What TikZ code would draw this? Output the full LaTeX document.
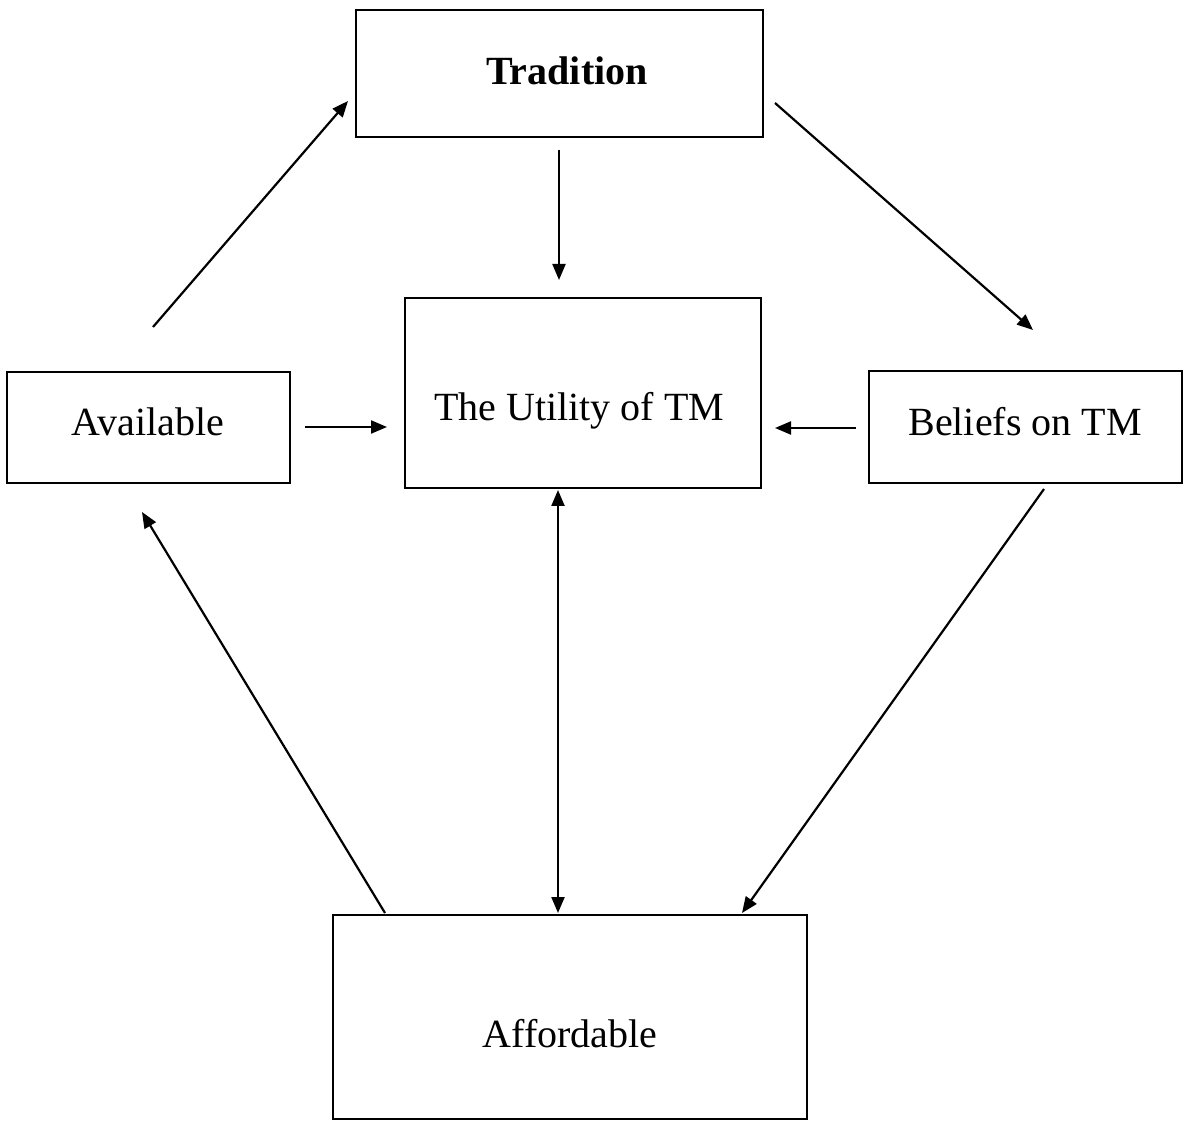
\documentclass[tikz,border=0pt]{standalone}
\usepackage{fontspec}
\setmainfont{Liberation Serif}
\usetikzlibrary{arrows.meta}
\begin{document}
\begin{tikzpicture}[x=0.5pt,y=-0.5pt,
  box/.style={draw=black, line width=1.4pt, rectangle, inner sep=0pt, outer sep=0pt, fill=white},
  lbl/.style={anchor=base, inner sep=0pt, font=\fontsize{20pt}{24pt}\selectfont},
  arr/.style={line width=1.1pt, -{Triangle[length=8pt,width=6.5pt]}},
  darr/.style={line width=1.1pt, {Triangle[length=8pt,width=6.5pt]}-{Triangle[length=8pt,width=6.5pt]}}]
\useasboundingbox[fill=white] (0,0) rectangle (1188,1122);
% boxes
\node[box, minimum width=203.5pt, minimum height=63.5pt] (trad) at (559.5,73.5) {};
\node[box, minimum width=178pt, minimum height=95pt] (util) at (583,393) {};
\node[box, minimum width=141.5pt, minimum height=55.5pt] (avail) at (148.5,427.5) {};
\node[box, minimum width=156.5pt, minimum height=56pt] (belief) at (1025.5,427) {};
\node[box, minimum width=237pt, minimum height=102pt] (afford) at (570,1017) {};
% texts
\node[lbl, font=\fontsize{20pt}{24pt}\selectfont\bfseries] (tradT) at (567,85) {Tradition};
\node[lbl] (utilT) at (579,421) {The Utility of TM};
\node[lbl] (availT) at (148,436) {Available};
\node[lbl] (beliefT) at (1025,436) {Beliefs on TM};
\node[lbl] (affordT) at (570,1047) {Affordable};
% connector end points
\coordinate (a1s) at (153,327);  \coordinate (a1e) at (348,101);
\coordinate (a2s) at (559,150);  \coordinate (a2e) at (559,280);
\coordinate (a3s) at (775,103);  \coordinate (a3e) at (1033,330);
\coordinate (a4s) at (305,427);  \coordinate (a4e) at (387,427);
\coordinate (a5s) at (856,428);  \coordinate (a5e) at (775,428);
\coordinate (a6s) at (558,490);  \coordinate (a6e) at (558,913);
\coordinate (a7s) at (385,913);  \coordinate (a7e) at (142,512);
\coordinate (a8s) at (1044,489); \coordinate (a8e) at (742,913);
% connectors
\draw[arr] (a1s) -- (a1e);
\draw[arr] (a2s) -- (a2e);
\draw[arr] (a3s) -- (a3e);
\draw[arr] (a4s) -- (a4e);
\draw[arr] (a5s) -- (a5e);
\draw[darr] (a6s) -- (a6e);
\draw[arr] (a7s) -- (a7e);
\draw[arr] (a8s) -- (a8e);
\end{tikzpicture}
\end{document}
